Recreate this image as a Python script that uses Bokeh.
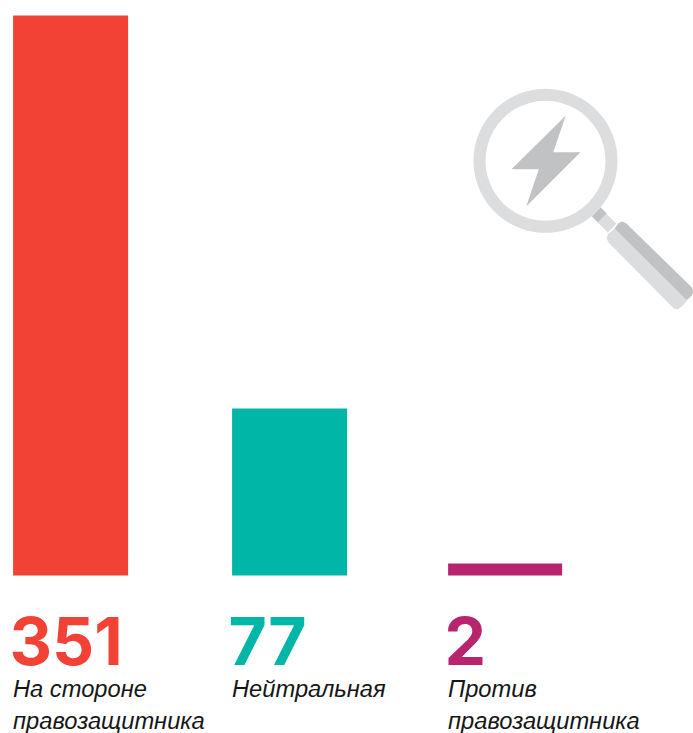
from bokeh.plotting import figure
from bokeh.core.properties import value
from bokeh.embed import file_html
from bokeh.resources import INLINE

# Printed numbers, and the bar lengths as they are drawn in the picture
# (the reference's bars are not proportional to the printed numbers).
categories = [["На стороне", "правозащитника"], ["Нейтральная"], ["Против", "правозащитника"]]
counts = [351, 77, 2]
drawn_lengths = [351.0, 104.7, 7.5]
colors = ["#f24236", "#00b6a6", "#b8256f"]
bar_lefts = [13, 232, 448]
bar_widths = [115, 115, 114]

W, H = 693, 733
BASE = 575          # canvas y of the zero line
SCALE = 560 / 351   # px per drawn unit


def yc(py):
    return (BASE - py) / SCALE


def page(pts, ox=460, oy=80):
    """zoom-crop coordinates of the decoration to data coordinates"""
    return [z[0] / 3 + ox for z in pts], [yc(z[1] / 3 + oy) for z in pts]


p = figure(width=W, height=H, x_range=(0, W), y_range=(yc(H), yc(0)),
           output_backend="svg", toolbar_location=None, min_border=0,
           outline_line_color=None, background_fill_color="white",
           border_fill_color="white")
p.axis.visible = False
p.grid.visible = False

for left, width, length, color in zip(bar_lefts, bar_widths, drawn_lengths, colors):
    p.quad(left=left - 0.4, right=left - 0.4 + width, bottom=0, top=length, color=color, line_color=None)

LIGHT, MID = "#dcddde", "#c1c2c4"

# magnifier
nx, ny = page([(420, 382), (468, 430), (442, 456), (396, 410)])
p.patch(nx, ny, color=LIGHT, line_color=None)
nx, ny = page([(420, 380), (438, 398), (412, 425), (394, 407)])
p.patch(nx, ny, color=MID, line_color=None)
hx, hy = page([(462, 445), (474, 428), (484, 423), (497, 428), (695, 622), (699, 634), (694, 645), (678, 660)])
p.patch(hx, hy, color=MID, line_color=None)
hx, hy = page([(462, 445), (680, 660), (664, 678), (652, 686), (640, 684), (444, 486), (438, 474), (442, 462)])
p.patch(hx, hy, color=LIGHT, line_color=None)
cx, cy = page([(255, 241)])
p.annular_wedge(x=cx, y=cy, inner_radius=60, outer_radius=72, inner_radius_units="screen",
                outer_radius_units="screen", start_angle=0, end_angle=6.28318, color=LIGHT, line_color=None)
bx, by = page([(316, 105), (278, 215), (360, 215), (197, 378), (235, 266), (153, 266)])
p.patch(bx, by, color=MID, line_color=None)

# texts
for left, count, color, lines in zip(bar_lefts, counts, colors, categories):
    p.text(x=[left - 4], y=[yc(640)], text=[str(count)], text_color=color,
           text_font=value("Inter"), text_font_style="bold", text_font_size="66px",
           text_baseline="alphabetic", text_align="left")
    for i, line in enumerate(lines):
        p.text(x=[left - 0.5], y=[yc(688.5 + 32 * i)], text=[line], text_color="#161616",
               text_font=value("Liberation Sans"), text_font_style="italic", text_font_size="23.7px",
               text_baseline="alphabetic", text_align="left")

open("out.html", "w").write(file_html(p, INLINE))
